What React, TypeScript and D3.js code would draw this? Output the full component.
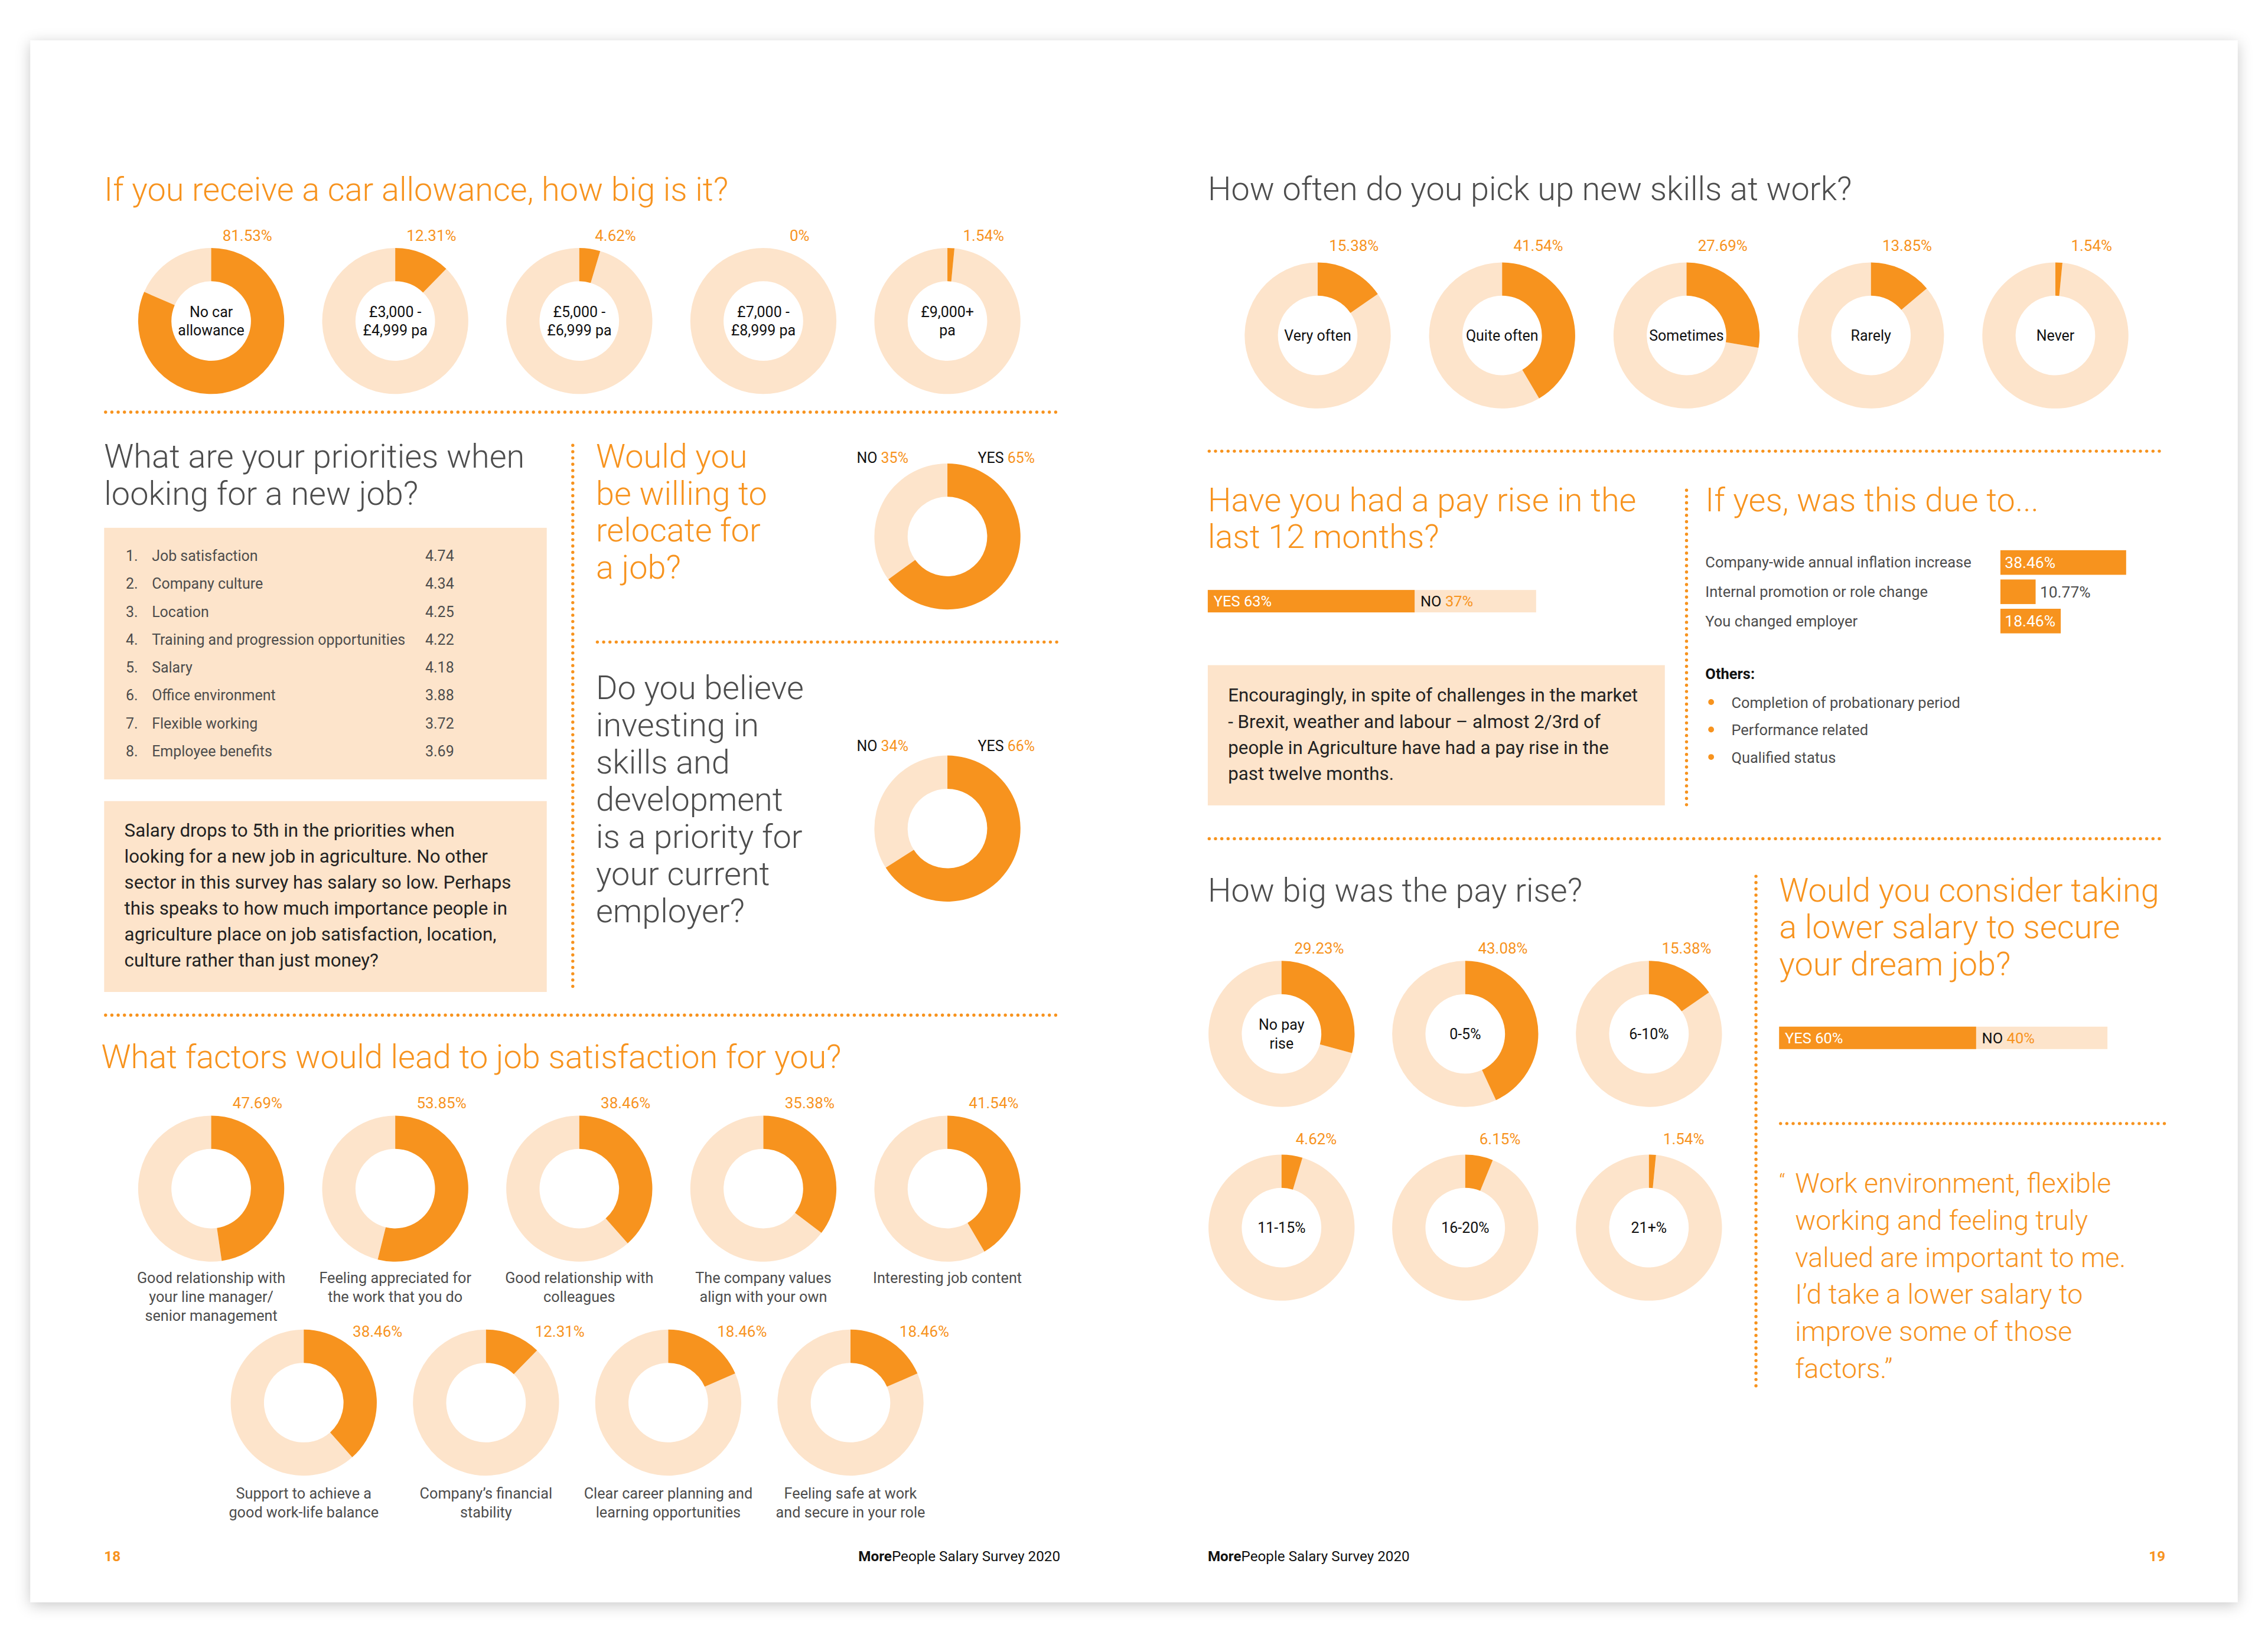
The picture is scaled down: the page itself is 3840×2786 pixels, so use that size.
import * as d3 from "d3"

const ORANGE = "#F7931E"
const PEACH = "#FDE4CB"
const GRAY = "#4D4D4D"
const TEXT = "#222222"
const TITLE_FONT = "Roboto"
const BODY_FONT = "Roboto"

// ---- data ----
const carCategories = ["No car\nallowance", "£3,000 -\n£4,999 pa", "£5,000 -\n£6,999 pa", "£7,000 -\n£8,999 pa", "£9,000+\npa"]
const carValues = [81.53, 12.31, 4.62, 0, 1.54]

const priorityItems = ["Job satisfaction", "Company culture", "Location", "Training and progression opportunities", "Salary", "Office environment", "Flexible working", "Employee benefits"]
const priorityScores = ["4.74", "4.34", "4.25", "4.22", "4.18", "3.88", "3.72", "3.69"]

const relocateLabels = ["YES", "NO"]
const relocateValues = [65, 35]
const investValues = [66, 34]

const factorsTop = ["Good relationship with\nyour line manager/\nsenior management", "Feeling appreciated for\nthe work that you do", "Good relationship with\ncolleagues", "The company values\nalign with your own", "Interesting job content"]
const factorsTopValues = [47.69, 53.85, 38.46, 35.38, 41.54]
const factorsBottom = ["Support to achieve a\ngood work-life balance", "Company’s financial\nstability", "Clear career planning and\nlearning opportunities", "Feeling safe at work\nand secure in your role"]
const factorsBottomValues = [38.46, 12.31, 18.46, 18.46]

const skillCategories = ["Very often", "Quite often", "Sometimes", "Rarely", "Never"]
const skillValues = [15.38, 41.54, 27.69, 13.85, 1.54]

const payRiseValues = [63, 37]
const reasonLabels = ["Company-wide annual inflation increase", "Internal promotion or role change", "You changed employer"]
const reasonValues = [38.46, 10.77, 18.46]
const otherReasons = ["Completion of probationary period", "Performance related", "Qualified status"]

const riseCategoriesTop = ["No pay\nrise", "0-5%", "6-10%"]
const riseValuesTop = [29.23, 43.08, 15.38]
const riseCategoriesBottom = ["11-15%", "16-20%", "21+%"]
const riseValuesBottom = [4.62, 6.15, 1.54]

const lowerSalaryValues = [60, 40]

const salaryNote = ["Salary drops to 5th in the priorities when", "looking for a new job in agriculture. No other", "sector in this survey has salary so low. Perhaps", "this speaks to how much importance people in", "agriculture place on job satisfaction, location,", "culture rather than just money?"]
const payNote = ["Encouragingly, in spite of challenges in the market", "- Brexit, weather and labour – almost 2/3rd of", "people in Agriculture have had a pay rise in the", "past twelve months."]
const quoteLines = ["Work environment, flexible", "working and feeling truly", "valued are important to me.", "I’d take a lower salary to", "improve some of those", "factors.”"]

// ---- drawing helpers ----
const S = 3840 / 1568
const VW = 1568
const VH = 2786 / S

const R_OUT = 50.5
const R_IN = 27.5
const arc = d3.arc<d3.PieArcDatum<number>>().innerRadius(R_IN).outerRadius(R_OUT)
const pie = d3.pie<number>().sort(null).value(d => d)

function Lines({ x, y, lines, lh, ...rest }: any) {
  return (
    <text x={x} y={y} {...rest}>
      {lines.map((l: string, i: number) => (
        <tspan key={i} x={x} dy={i === 0 ? 0 : lh}>{l}</tspan>
      ))}
    </text>
  )
}

function Donut({ cx, cy, value, label, labelDx, labelDy }: any) {
  const arcs = pie([value, 100 - value])
  const lines = label ? label.split("\n") : []
  const lh = 13
  return (
    <g>
      <g transform={`translate(${cx},${cy})`}>
        <path d={arc(arcs[1]) || ""} fill={PEACH} />
        {value > 0 && <path d={arc(arcs[0]) || ""} fill={ORANGE} />}
        {lines.length > 0 && (
          <Lines x={0} y={3.6 - ((lines.length - 1) * lh) / 2} lines={lines} lh={lh}
            textAnchor="middle" fontFamily={BODY_FONT} fontSize={10.2} fill="#111" />
        )}
      </g>
      <text x={cx + labelDx} y={cy + labelDy} textAnchor="middle" fontFamily={BODY_FONT}
        fontSize={10.6} fill={ORANGE}>
        {value}%
      </text>
    </g>
  )
}

function DonutRow({ categories, values, x0, x1, cy, labelDx, labelDy, inside, capDy }: any) {
  const x = d3.scalePoint<string>().domain(categories).range([x0, x1])
  return (
    <g>
      {categories.map((c: string, i: number) => (
        <g key={c}>
          <Donut cx={x(c)} cy={cy} value={values[i]} label={inside ? c : null} labelDx={labelDx} labelDy={labelDy} />
          {!inside && (
            <Lines x={x(c)} y={cy + capDy} lines={c.split("\n")} lh={13} textAnchor="middle"
              fontFamily={BODY_FONT} fontSize={10.3} fill={GRAY} />
          )}
        </g>
      ))}
    </g>
  )
}

function Dots({ x1, y1, x2, y2 }: any) {
  return <line x1={x1} y1={y1} x2={x2} y2={y2} stroke={ORANGE} strokeWidth={2.2}
    strokeDasharray="0 4.35" strokeLinecap="round" />
}

function YesNoDonut({ cx, cy, values, labelDy }: any) {
  const arcs = pie(values)
  return (
    <g>
      <g transform={`translate(${cx},${cy})`}>
        <path d={arc(arcs[1]) || ""} fill={PEACH} />
        <path d={arc(arcs[0]) || ""} fill={ORANGE} />
      </g>
      <text x={cx - 27} y={cy + labelDy} textAnchor="end" fontFamily={BODY_FONT} fontSize={10.2} fill="#111">
        {relocateLabels[1]} <tspan fill={ORANGE}>{values[1]}%</tspan>
      </text>
      <text x={cx + 21} y={cy + labelDy} fontFamily={BODY_FONT} fontSize={10.2} fill="#111">
        {relocateLabels[0]} <tspan fill={ORANGE}>{values[0]}%</tspan>
      </text>
    </g>
  )
}

function YesNoBar({ x0, y, values }: any) {
  const w = d3.scaleLinear().domain([0, 100]).range([0, 227])
  const h = 15.5
  return (
    <g>
      <rect x={x0} y={y} width={w(100)} height={h} fill={PEACH} />
      <rect x={x0} y={y} width={w(values[0])} height={h} fill={ORANGE} />
      <text x={x0 + 4} y={y + h / 2 + 3.7} fontFamily={BODY_FONT} fontSize={10.4} fill="#fff">
        {relocateLabels[0]} {values[0]}%
      </text>
      <text x={x0 + w(values[0]) + 4} y={y + h / 2 + 3.7} fontFamily={BODY_FONT} fontSize={10.4} fill="#111">
        {relocateLabels[1]} <tspan fill={ORANGE}>{values[1]}%</tspan>
      </text>
    </g>
  )
}

function ReasonBars() {
  const w = d3.scaleLinear().domain([0, 100]).range([0, 226])
  const y = d3.scaleBand<string>().domain(reasonLabels).range([380.5, 438]).paddingInner(0.16)
  return (
    <g>
      {reasonLabels.map((r, i) => {
        const by = y(r) || 0
        const bw = w(reasonValues[i])
        const inside = bw > 35
        return (
          <g key={r}>
            <text x={1179} y={by + y.bandwidth() / 2 + 3.6} fontFamily={BODY_FONT} fontSize={10.4} fill={GRAY}>{r}</text>
            <rect x={1383} y={by} width={bw} height={y.bandwidth()} fill={ORANGE} />
            <text x={inside ? 1386 : 1383 + bw + 3} y={by + y.bandwidth() / 2 + 3.8} fontFamily={BODY_FONT}
              fontSize={10.8} fill={inside ? "#fff" : GRAY}>{reasonValues[i]}%</text>
          </g>
        )
      })}
    </g>
  )
}

const titleProps = { fontFamily: TITLE_FONT, fontWeight: 300, fontSize: 22.8 }

export default function App() {
  const rowY = d3.scaleLinear().domain([0, priorityItems.length - 1]).range([388, 523])
  return (
    <svg width={3840} height={2786} viewBox={`0 0 ${VW} ${VH}`} style={{ position: "absolute", left: 0, top: 0 }}>
      <defs>
        <filter id="shadow" x="-5%" y="-5%" width="110%" height="110%">
          <feDropShadow dx="0" dy="2" stdDeviation="5" floodColor="#000" floodOpacity="0.22" />
        </filter>
      </defs>
      <rect x={0} y={0} width={VW} height={VH} fill="#fff" />
      <rect x={21} y={28} width={1526} height={1080} fill="#fff" filter="url(#shadow)" />

      {/* ---------- left page ---------- */}
      <text x={72} y={139} {...titleProps} fill={ORANGE}>If you receive a car allowance, how big is it?</text>
      <DonutRow categories={carCategories} values={carValues} x0={146} x1={655} cy={222} labelDx={25} labelDy={-55.5} inside />
      <Dots x1={73} y1={285} x2={733} y2={285} />

      <Lines x={72} y={323.5} lines={["What are your priorities when", "looking for a new job?"]} lh={25.8} {...titleProps} fill={GRAY} />
      <rect x={72} y={365} width={306} height={174} fill={PEACH} />
      {priorityItems.map((p, i) => (
        <g key={p} fontFamily={BODY_FONT} fontSize={10.2} fill={GRAY}>
          <text x={87} y={rowY(i)}>{i + 1}.</text>
          <text x={105} y={rowY(i)}>{p}</text>
          <text x={294} y={rowY(i)}>{priorityScores[i]}</text>
        </g>
      ))}
      <rect x={72} y={554} width={306} height={132} fill={PEACH} />
      <Lines x={86} y={578.5} lines={salaryNote} lh={18} fontFamily={BODY_FONT} fontSize={12.8} fill={TEXT} />

      <Dots x1={396} y1={308} x2={396} y2={686} />

      <Lines x={412} y={323.5} lines={["Would you", "be willing to", "relocate for", "a job?"]} lh={25.5} {...titleProps} fill={ORANGE} />
      <YesNoDonut cx={655} cy={371} values={relocateValues} labelDy={-51} />
      <Dots x1={413} y1={444} x2={733} y2={444} />
      <Lines x={412} y={483.5} lines={["Do you believe", "investing in", "skills and", "development", "is a priority for", "your current", "employer?"]} lh={25.7} {...titleProps} fill={GRAY} />
      <YesNoDonut cx={655} cy={573} values={investValues} labelDy={-53.5} />

      <Dots x1={73} y1={702} x2={733} y2={702} />
      <text x={70} y={738.5} {...titleProps} fill={ORANGE}>What factors would lead to job satisfaction for you?</text>
      <DonutRow categories={factorsTop} values={factorsTopValues} x0={146} x1={655} cy={822} labelDx={32} labelDy={-55.5} capDy={65.5} />
      <DonutRow categories={factorsBottom} values={factorsBottomValues} x0={210} x1={588} cy={970} labelDx={51} labelDy={-45.5} capDy={66.5} />

      <text x={72} y={1079.5} fontFamily={BODY_FONT} fontWeight={700} fontSize={9.9} fill={ORANGE}>18</text>
      <text x={733} y={1079.5} textAnchor="end" fontFamily={BODY_FONT} fontSize={9.9} fill="#111">
        <tspan fontWeight={700}>More</tspan>People Salary Survey 2020
      </text>

      {/* ---------- right page ---------- */}
      <text x={835} y={138.5} {...titleProps} fill={GRAY}>How often do you pick up new skills at work?</text>
      <DonutRow categories={skillCategories} values={skillValues} x0={911} x1={1421} cy={232} labelDx={25} labelDy={-58.5} inside />
      <Dots x1={836} y1={312} x2={1497} y2={312} />

      <Lines x={835} y={353.5} lines={["Have you had a pay rise in the", "last 12 months?"]} lh={25.5} {...titleProps} fill={ORANGE} />
      <YesNoBar x0={835} y={408} values={payRiseValues} />
      <rect x={835} y={460} width={316} height={97} fill={PEACH} />
      <Lines x={849} y={485.3} lines={payNote} lh={18} fontFamily={BODY_FONT} fontSize={12.8} fill={TEXT} />

      <Dots x1={1166} y1={339} x2={1166} y2={557} />
      <text x={1179} y={353.5} {...titleProps} fill={ORANGE}>If yes, was this due to...</text>
      <ReasonBars />
      <text x={1179} y={469.5} fontFamily={BODY_FONT} fontWeight={700} fontSize={10.4} fill="#111">Others:</text>
      {otherReasons.map((o, i) => (
        <g key={o}>
          <circle cx={1183} cy={485.5 + i * 19} r={2} fill={ORANGE} />
          <text x={1197} y={489.5 + i * 19} fontFamily={BODY_FONT} fontSize={10.4} fill={GRAY}>{o}</text>
        </g>
      ))}

      <Dots x1={836} y1={580} x2={1497} y2={580} />
      <text x={835} y={623.5} {...titleProps} fill={GRAY}>How big was the pay rise?</text>
      <DonutRow categories={riseCategoriesTop} values={riseValuesTop} x0={886} x1={1140} cy={715} labelDx={26} labelDy={-55.5} inside />
      <DonutRow categories={riseCategoriesBottom} values={riseValuesBottom} x0={886} x1={1140} cy={849} labelDx={24} labelDy={-57.5} inside />

      <Dots x1={1214} y1={606} x2={1214} y2={960} />
      <Lines x={1230} y={623.5} lines={["Would you consider taking", "a lower salary to secure", "your dream job?"]} lh={25.5} {...titleProps} fill={ORANGE} />
      <YesNoBar x0={1230} y={710} values={lowerSalaryValues} />
      <Dots x1={1231} y1={777} x2={1497} y2={777} />
      <text x={1230} y={822} fontFamily={TITLE_FONT} fontWeight={300} fontSize={14} fill={ORANGE}>“</text>
      <Lines x={1241} y={825} lines={quoteLines} lh={25.6} fontFamily={TITLE_FONT} fontWeight={300} fontSize={19} fill={ORANGE} />

      <text x={835} y={1079.5} fontFamily={BODY_FONT} fontSize={9.9} fill="#111">
        <tspan fontWeight={700}>More</tspan>People Salary Survey 2020
      </text>
      <text x={1497} y={1079.5} textAnchor="end" fontFamily={BODY_FONT} fontWeight={700} fontSize={9.9} fill={ORANGE}>19</text>
    </svg>
  )
}
